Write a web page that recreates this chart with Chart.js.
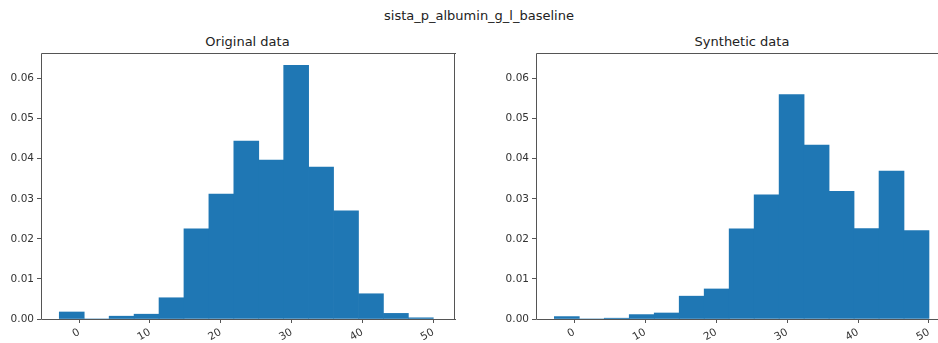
<!DOCTYPE html>
<html>
<head>
<meta charset="utf-8">
<script src="https://cdn.jsdelivr.net/npm/chart.js@4/dist/chart.umd.min.js"></script>
<style>
  body { margin: 0; width: 938px; height: 343px; overflow: hidden; position: relative; background: #fff; font-family: "DejaVu Sans", sans-serif; color: #222; }
  .ttl { position: absolute; transform: translateX(-50%); font-size: 13px; line-height: 16px; white-space: nowrap; }
  canvas { position: absolute; top: 0; }
</style>
</head>
<body>
<div class="ttl" style="left:479px;top:8px">sista_p_albumin_g_l_baseline</div>
<div class="ttl" style="left:247.5px;top:34px">Original data</div>
<div class="ttl" style="left:742px;top:34px">Synthetic data</div>
<canvas id="chartL" width="470" height="343" style="left:0"></canvas>
<canvas id="chartR" width="470" height="343" style="left:468px"></canvas>
<script>
// histogram bins (centres of 15 equal bins from about -2.8 to 50)
const binCenters = [-1.04, 2.48, 6.00, 9.52, 13.04, 16.56, 20.08, 23.60, 27.12, 30.64, 34.16, 37.68, 41.20, 44.72, 48.24];

// densities
const originalDensity = [0.00175, 0, 0.0007, 0.0012, 0.0053, 0.0225, 0.0312, 0.0444, 0.0397, 0.0633, 0.0379, 0.0270, 0.0063, 0.0014, 0.0003];
const syntheticDensity = [0.0006, 0, 0.0002, 0.0011, 0.0015, 0.0057, 0.0075, 0.0225, 0.0310, 0.0560, 0.0434, 0.0319, 0.0226, 0.0369, 0.0221];

const xTicks = [0, 10, 20, 30, 40, 50];
const yTicks = [0, 0.01, 0.02, 0.03, 0.04, 0.05, 0.06];

const barColor = '#1f77b4';
const axisColor = '#555';
const textColor = '#333';

// spines round the plot area; the right panel is cut by the window so it has no right spine
function makeFrame(rightSide) {
    return {
        id: 'frame',
        afterDraw(chart) {
            const a = chart.chartArea;
            const ctx = chart.ctx;
            const l = Math.round(a.left) + 0.5, r = Math.round(a.right) + 0.5;
            const t = Math.round(a.top) + 0.5, b = Math.round(a.bottom) + 0.5;
            ctx.save();
            ctx.strokeStyle = axisColor;
            ctx.lineWidth = 1;
            ctx.beginPath();
            ctx.moveTo(l, b); ctx.lineTo(l, t); ctx.lineTo(a.right + 2, t);
            ctx.moveTo(l, b); ctx.lineTo(a.right + 2, b);
            if (rightSide) { ctx.moveTo(r, t); ctx.lineTo(r, b); }
            ctx.stroke();
            ctx.restore();
        }
    };
}

function makeHist(id, values, yWidth, padRight, xMax, rightSide) {
    const points = binCenters.map((x, i) => ({ x: x, y: values[i] }));
    return new Chart(document.getElementById(id), {
        type: 'bar',
        data: {
            datasets: [{
                data: points,
                backgroundColor: barColor,
                borderWidth: 0,
                barPercentage: 1,
                categoryPercentage: 1,
                grouped: false
            }]
        },
        options: {
            responsive: false,
            animation: false,
            devicePixelRatio: 1,
            layout: { padding: { left: 0, right: padRight, top: 53, bottom: 0 } },
            plugins: { legend: { display: false }, tooltip: { enabled: false } },
            scales: {
                x: {
                    type: 'linear',
                    offset: false,
                    min: -5.38,
                    max: xMax,
                    afterBuildTicks: s => { s.ticks = xTicks.map(v => ({ value: v })); },
                    afterFit: s => { s.height = 24; s.paddingLeft = 0; s.paddingRight = 0; },
                    border: { display: false },
                    grid: { drawOnChartArea: false, drawTicks: true, tickLength: 4, color: axisColor, offset: false },
                    ticks: {
                        autoSkip: false,
                        minRotation: 30,
                        maxRotation: 30,
                        padding: 3,
                        color: textColor,
                        font: { family: 'DejaVu Sans', size: 10.5 },
                        callback: v => String(v)
                    }
                },
                y: {
                    min: 0,
                    max: 0.0664,
                    afterBuildTicks: s => { s.ticks = yTicks.map(v => ({ value: v })); },
                    afterFit: s => { s.width = yWidth; },
                    border: { display: false },
                    grid: { drawOnChartArea: false, drawTicks: true, tickLength: 4, color: axisColor },
                    ticks: {
                        padding: 3,
                        color: textColor,
                        font: { family: 'DejaVu Sans', size: 10.5 },
                        callback: v => v.toFixed(2)
                    }
                }
            }
        },
        plugins: [makeFrame(rightSide)]
    });
}

makeHist('chartL', originalDensity, 41, 16, 52.92, true);
makeHist('chartR', syntheticDensity, 68, 0, 51.27, false);
</script>
</body>
</html>
